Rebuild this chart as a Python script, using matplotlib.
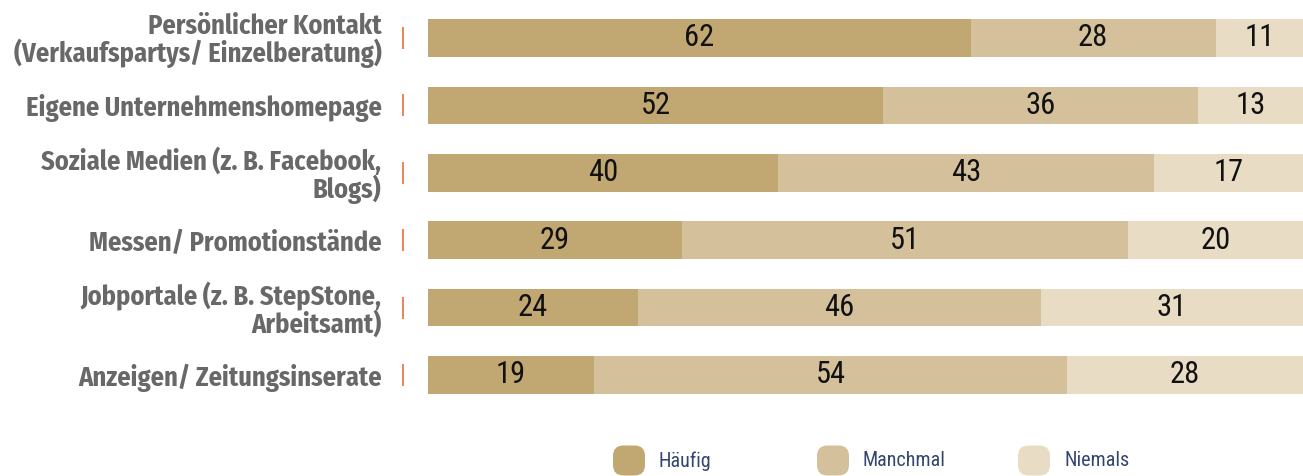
import matplotlib.pyplot as plt
from matplotlib.patches import FancyBboxPatch
from matplotlib.transforms import blended_transform_factory

categories = [
    "Persönlicher Kontakt\n(Verkaufspartys/ Einzelberatung)",
    "Eigene Unternehmenshomepage",
    "Soziale Medien (z. B. Facebook,\nBlogs)",
    "Messen/ Promotionstände",
    "Jobportale (z. B. StepStone,\nArbeitsamt)",
    "Anzeigen/ Zeitungsinserate",
]
haeufig = [62, 52, 40, 29, 24, 19]
manchmal = [28, 36, 43, 51, 46, 54]
niemals = [11, 13, 17, 20, 31, 28]
series_names = ["Häufig", "Manchmal", "Niemals"]
colors = ["#C1A771", "#D4C09B", "#E8DCC5"]

font = ["Fira Sans Condensed", "DejaVu Sans"]
font_num = ["Roboto Condensed", "DejaVu Sans"]

W, H = 1303, 476
fig = plt.figure(figsize=(W / 100, H / 100), dpi=100)
ax = fig.add_axes([428 / W, 1 - 408.7 / H, 1 - 428 / W, (408.7 - 4.3) / H])

y = list(range(len(categories)))
left = [0] * len(categories)
for vals, name, col in zip([haeufig, manchmal, niemals], series_names, colors):
    bars = ax.barh(y, vals, left=left, height=0.56, color=col, label=name)
    ax.bar_label(bars, label_type="center", fontsize=22, color="#111111",
                 family=font_num)
    left = [l + v for l, v in zip(left, vals)]

ax.set_xlim(0, 100)
ax.set_ylim(5.5, -0.5)
ax.set_xticks([])
ax.set_yticks(y)
ax.set_yticklabels(categories, family=font, fontweight="bold", fontsize=19,
                   color="#686868", linespacing=0.96)
ax.tick_params(axis="y", length=0, pad=33.5)
for s in ax.spines.values():
    s.set_visible(False)

# small orange marks next to the labels
trans = blended_transform_factory(ax.transAxes, ax.transData)
ax.plot([-25 / 875] * len(y), y, linestyle="none", marker="|", markersize=16,
        markeredgewidth=1.2, color="#E8703A", transform=trans, clip_on=False)

# legend
leg_x = [613, 817, 1018]
for lx, name, col in zip(leg_x, series_names, colors):
    box = FancyBboxPatch((lx / W, 1 - 476 / H + 0.5 / H), 32 / W, 30 / H,
                         boxstyle="round,pad=0,rounding_size=0.008",
                         transform=fig.transFigure, facecolor=col,
                         edgecolor="none", mutation_aspect=W / H)
    fig.patches.append(box)
    fig.text((lx + 46) / W, 1 - 461 / H, name, fontsize=14.5, color="#34466e",
             va="center", ha="left", family=font_num)

fig.savefig("out.png", dpi=100)
